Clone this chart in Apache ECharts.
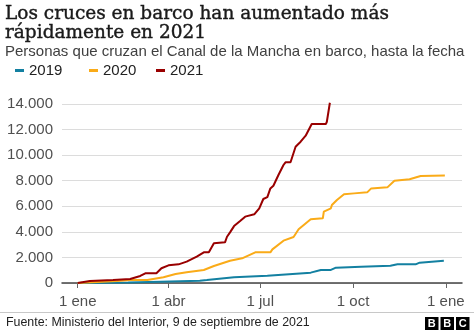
<!DOCTYPE html>
<html>
<head>
<meta charset="utf-8">
<script src="https://cdn.jsdelivr.net/npm/echarts@6/dist/echarts.min.js"></script>
<style>
  html, body { margin: 0; padding: 0; background: #fff; }
  #chart { width: 474px; height: 333px; }
</style>
</head>
<body>
<div id="chart"></div>
<script>
// dia del año (0 = 1 ene) y personas acumuladas
var dias2019 = [0, 50, 82, 121, 128, 155, 188, 231, 241, 251, 256, 281, 310, 317, 335, 339, 363];
var valores2019 = [0, 40, 100, 180, 230, 450, 570, 810, 1020, 1020, 1200, 1280, 1350, 1460, 1460, 1590, 1740];

var dias2020 = [0, 39, 52, 69, 85, 97, 108, 125, 135, 151, 163, 176, 191, 193, 204, 214, 219, 231, 243, 244,
                251, 252, 257, 264, 274, 287, 291, 307, 314, 329, 340, 364];
var valores2020 = [0, 160, 230, 230, 450, 700, 840, 1020, 1330, 1740, 1930, 2400, 2400, 2630, 3310, 3600, 4200, 4980, 5060, 5580,
                   5840, 6100, 6490, 6940, 7010, 7090, 7400, 7480, 8000, 8110, 8370, 8400];

var dias2021 = [0, 12, 35, 52, 62, 67, 78, 83, 90, 100, 108, 118, 125, 130, 135, 146, 148, 151, 155, 161,
                166, 175, 180, 184, 188, 191, 194, 199, 204, 206, 211, 216, 221, 226, 232, 246, 247, 250];
var valores2021 = [0, 150, 230, 310, 550, 760, 760, 1150, 1380, 1460, 1670, 2060, 2400, 2400, 3100, 3180, 3620, 3960, 4450, 4850,
                   5190, 5370, 5840, 6570, 6720, 7400, 7610, 8450, 9230, 9440, 9440, 10660, 11050, 11520, 12430, 12430, 12610, 14100];

var anios = ['2019', '2020', '2021'];
var colores = ['#1380a1', '#faab18', '#990000'];
var diasMes = [0, 90, 181, 273, 365];
var etiquetasMes = ['1 ene', '1 abr', '1 jul', '1 oct', '1 ene'];

function pares(dias, valores) {
  var out = [];
  for (var i = 0; i < dias.length; i++) out.push([dias[i], valores[i]]);
  return out;
}
function miles(v) {
  return String(v).replace(/\B(?=(\d{3})+(?!\d))/g, '.');
}

var datos = [pares(dias2019, valores2019), pares(dias2020, valores2020), pares(dias2021, valores2021)];
var sans = '"Liberation Sans", Arial, sans-serif';

var series = [];
for (var i = 0; i < anios.length; i++) {
  series.push({
    name: anios[i],
    type: 'line',
    data: datos[i],
    showSymbol: false,
    clip: false,
    lineStyle: { color: colores[i], width: 2 },
    itemStyle: { color: colores[i] },
    emphasis: { disabled: true }
  });
}

// una leyenda por año para colocarlas donde tocan
var legendas = [];
var legendLeft = [15, 89, 156];
for (var j = 0; j < anios.length; j++) {
  legendas.push({
    data: [anios[j]],
    left: legendLeft[j],
    top: 63,
    padding: 0,
    icon: 'rect',
    itemWidth: 9,
    itemHeight: 3,
    itemGap: 0,
    selectedMode: false,
    textStyle: { fontFamily: sans, fontSize: 15, color: '#222' }
  });
}

var myChart = echarts.init(document.getElementById('chart'));
var option = {
  animation: false,
  backgroundColor: '#fff',
  title: {
    text: 'Los cruces en barco han aumentado más\nrápidamente en 2021',
    left: 5,
    top: 4,
    padding: 0,
    textStyle: {
      fontFamily: '"DejaVu Serif", serif',
      fontSize: 18.5,
      fontWeight: 'normal',
      lineHeight: 19.5,
      color: '#1a1a1a',
      textBorderColor: '#1a1a1a',
      textBorderWidth: 0.4
    }
  },
  legend: legendas,
  grid: {
    left: 62,
    right: 12,
    top: 104,
    bottom: 50,
    containLabel: false,
    outerBoundsMode: 'none'
  },
  xAxis: {
    type: 'value',
    min: -15.6,
    max: 381,
    splitLine: { show: false },
    axisLine: { lineStyle: { color: '#444', width: 1.5 } },
    axisTick: { customValues: diasMes, length: 5, lineStyle: { color: '#666' } },
    axisLabel: {
      customValues: diasMes,
      margin: 11,
      fontFamily: sans,
      fontSize: 15,
      color: '#505050',
      formatter: function (v) { return etiquetasMes[diasMes.indexOf(v)]; }
    }
  },
  yAxis: {
    type: 'value',
    min: 0,
    max: 14000,
    interval: 2000,
    axisLine: { show: false },
    axisTick: { show: false },
    splitLine: { lineStyle: { color: '#dcdcdc', width: 1 } },
    axisLabel: {
      margin: 9,
      fontFamily: sans,
      fontSize: 15,
      color: '#505050',
      formatter: miles
    }
  },
  graphic: [
    {
      type: 'text', left: 5, top: 44,
      style: {
        text: 'Personas que cruzan el Canal de la Mancha en barco, hasta la fecha',
        font: '15px "Liberation Sans", Arial, sans-serif', fill: '#404040'
      }
    },
    {
      type: 'line', shape: { x1: 0, y1: 312.5, x2: 474, y2: 312.5 },
      style: { stroke: '#c8c8c8', lineWidth: 1 }
    },
    {
      type: 'text', left: 6, top: 317,
      style: {
        text: 'Fuente: Ministerio del Interior, 9 de septiembre de 2021',
        font: '12.4px "Liberation Sans", Arial, sans-serif', fill: '#222'
      }
    },
    {
      type: 'group', left: 425, top: 317,
      children: [0, 1, 2].map(function (k) {
        return {
          type: 'group', x: k * 15.5,
          children: [
            { type: 'rect', shape: { x: 0, y: 0, width: 13.5, height: 13 }, style: { fill: '#000' } },
            { type: 'text', x: 6.75, y: 7, style: {
                text: 'BBC'.charAt(k), fill: '#fff', align: 'center', verticalAlign: 'middle',
                font: 'bold 11px "Liberation Sans", Arial, sans-serif' } }
          ]
        };
      })
    }
  ],
  series: series
};
myChart.setOption(option);
</script>
</body>
</html>
